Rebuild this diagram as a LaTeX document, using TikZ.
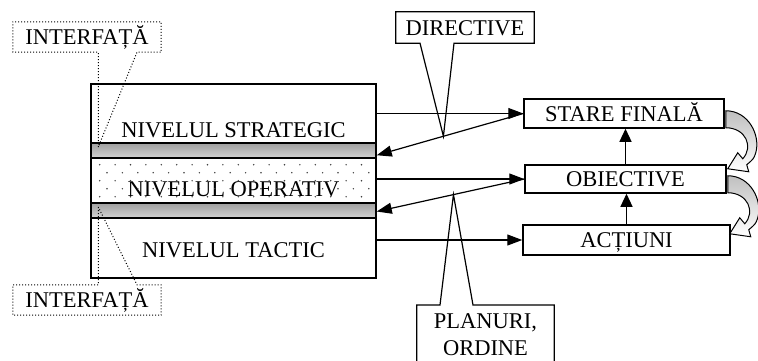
\documentclass[tikz,border=0pt]{standalone}
\usepackage{fontspec}
\setmainfont{Liberation Serif}
\usetikzlibrary{arrows.meta,calc}

\tikzset{
  bendarrow/.pic={
    % curved block arrow leaving a box on its right side and turning back into the box below
    \draw[line width=1pt, top color=gray!50, middle color=white, bottom color=white]
      (1,-18) .. controls (24,-18) and (36,7) .. (31,24)
      .. controls (29,30) .. (22,36)
      -- (24,43) -- (3,40) -- (13,24) -- (18,30)
      .. controls (29,18) and (21,-1) .. (1,-1) -- cycle;
  }
}

\begin{document}
\begin{tikzpicture}[x=1pt,y=-1pt,
  txt/.style={font=\fontsize{22.5}{27}\selectfont, inner sep=0pt},
  tier/.style={draw, line width=1.5pt, minimum width=285pt, inner sep=0pt},
  tierband/.style={tier, minimum height=15pt, top color=gray!75, bottom color=gray!35},
  goalbox/.style={txt, draw, line width=1.5pt, inner sep=2pt, text height=15pt, text depth=0pt, fill=white},
  lbl/.style={txt, text height=15pt, text depth=0pt},
  fwd/.style={line width=1.2pt, -{Triangle[length=15pt,width=11pt]}},
  bwd/.style={line width=1.2pt, -{Triangle[length=15pt,width=11pt]}},
  uparr/.style={line width=1.2pt, -{Triangle[length=13pt,width=12pt]}},
  calloutline/.style={line width=1.2pt},
  dotcallout/.style={line width=1pt, dash pattern=on 1pt off 2pt},
  pdot/.style={fill=black!75}
]
\useasboundingbox (0,0) rectangle (758,360);

% left block: three command levels separated by two interface bands
\node[tier, minimum height=59pt] (strat) at (233.5,113.5) {};
\node[tierband] (band1) at (233.5,150.5) {};
\node[tier, minimum height=45pt] (oper) at (233.5,180.5) {};
\node[tierband] (band2) at (233.5,210.5) {};
\node[tier, minimum height=60pt] (tact) at (233.5,248) {};

\node[txt, anchor=base] (stratlbl) at (233.5,137) {NIVELUL STRATEGIC};
\node[txt, anchor=base] (operlbl) at (233.5,196) {NIVELUL OPERATIV};
\node[txt, anchor=base] (tactlbl) at (233.5,257) {NIVELUL TACTIC};

% dotted fill of the operative level
\foreach \r in {0,...,4} {
  \pgfmathsetmacro{\yy}{164.7+8*\r}
  \pgfmathsetmacro{\xo}{99.7+7.3*mod(\r,2)}
  \foreach \k in {0,...,17} {
    \fill[pdot] (\xo+15.4*\k, \yy) circle[radius=0.8pt];
  }
}

% right column
\node[goalbox, minimum width=200pt, minimum height=29pt] (stare) at (624,113.5) {STARE FINALĂ};
\node[goalbox, minimum width=201pt, minimum height=28pt] (obj) at (625.5,179) {OBIECTIVE};
\node[goalbox, minimum width=207pt, minimum height=30pt] (act) at (626.5,240) {ACȚIUNI};

\draw[uparr] (obj.north) -- (obj.north |- stare.south);
\draw[uparr] (act.north) -- (act.north |- obj.south);

% level -> goal arrows
\draw[fwd] (stare.west -| strat.east) -- (stare.west);
\draw[fwd] (obj.west -| oper.east) -- (obj.west);
\draw[fwd] (act.west -| tact.east) -- (act.west);

% feedback into the interfaces
\coordinate (b1tip) at ($(band1.south east)+(0,-3.5)$);
\coordinate (b2tip) at ($(band2.east)+(0,1)$);
\draw[bwd] (stare.west) -- (b1tip);
\draw[bwd] (obj.west) -- (b2tip);

% callout: DIRECTIVE
\node[lbl, minimum width=138pt, minimum height=31pt] (dir) at (465,27.5) {DIRECTIVE};
\coordinate (dirtip) at ($(stare.west)!0.545!(b1tip)$);
\draw[calloutline] (dirtip) -- ([xshift=-45pt]dir.south) -- (dir.south west) -- (dir.north west)
  -- (dir.north east) -- (dir.south east) -- ([xshift=-11pt]dir.south) -- cycle;

% callout: PLANURI, ORDINE
\node[minimum width=137pt, minimum height=70pt, inner sep=0pt, anchor=north] (planbox) at (485.5,305) {};
\node[txt, align=center, anchor=north] (plantext) at (485.5,313.5) {PLANURI,\\ORDINE};
\coordinate (plantip) at ($(obj.west)!0.48!(b2tip)$);
\draw[calloutline] (plantip) -- ([xshift=-45.5pt]planbox.north) -- (planbox.north west) -- (planbox.south west)
  -- (planbox.south east) -- (planbox.north east) -- ([xshift=-12.5pt]planbox.north) -- cycle;

% callouts: INTERFATA (upper and lower)
\node[lbl, minimum width=148pt, minimum height=30pt] (if1) at (87,37) {INTERFAȚĂ};
\coordinate (if1tip) at ($(band1.west)+(8,-3.5)$);
\draw[dotcallout] (if1tip) -- (if1tip |- if1.south) -- (if1.south west) -- (if1.north west)
  -- (if1.north east) -- (if1.south east) -- ([xshift=50pt]if1.south) -- cycle;

\node[lbl, minimum width=148pt, minimum height=30pt] (if2) at (87,300) {INTERFAȚĂ};
\coordinate (if2tip) at ($(band2.west)+(8,-3.5)$);
\draw[dotcallout] (if2tip) -- (if2tip |- if2.north) -- (if2.north west) -- (if2.south west)
  -- (if2.south east) -- (if2.north east) -- ([xshift=50pt]if2.north) -- cycle;

% curved transitions between goals
\pic at (stare.south east) {bendarrow};
\pic at (obj.south east) {bendarrow};
\end{tikzpicture}
\end{document}
